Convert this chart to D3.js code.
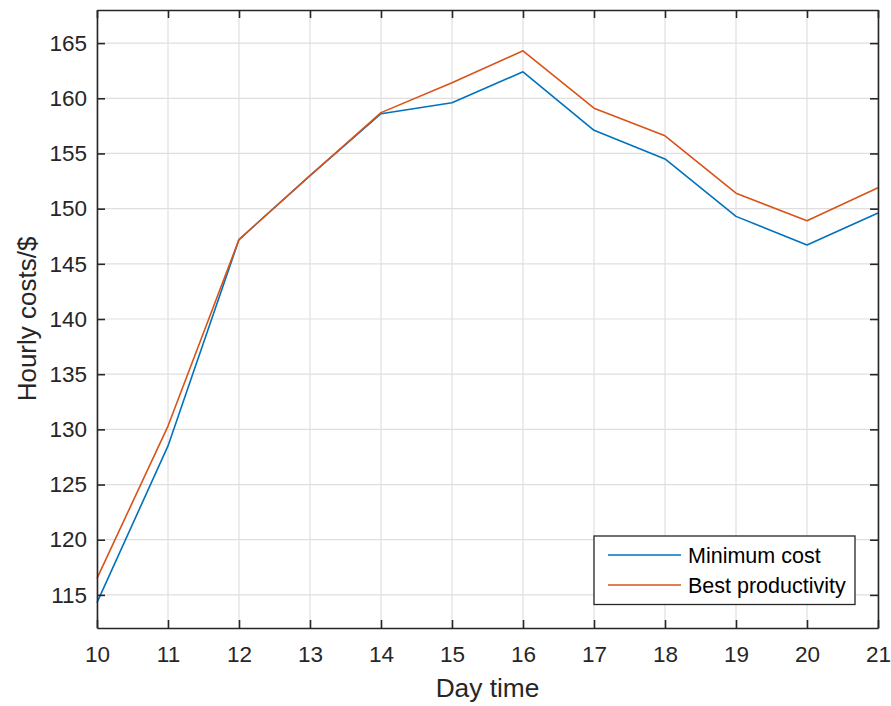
<!DOCTYPE html>
<html>
<head>
<meta charset="utf-8">
<script src="https://cdn.jsdelivr.net/npm/d3@7"></script>
<style>
  html, body { margin: 0; padding: 0; background: #fff; }
  svg { display: block; font-family: "Liberation Sans", Arial, Helvetica, sans-serif; }
</style>
</head>
<body>
<svg id="chart" width="891" height="706"></svg>
<script>
const hours = [10, 11, 12, 13, 14, 15, 16, 17, 18, 19, 20, 21];
const minimumCost = [114.3, 128.5, 147.2, 153.0, 158.6, 159.6, 162.4, 157.1, 154.5, 149.3, 146.7, 149.6];
const bestProductivity = [116.5, 130.3, 147.2, 153.0, 158.7, 161.4, 164.3, 159.1, 156.6, 151.4, 148.9, 151.9];
const xTicks = [10, 11, 12, 13, 14, 15, 16, 17, 18, 19, 20, 21];
const yTicks = [115, 120, 125, 130, 135, 140, 145, 150, 155, 160, 165];
const seriesNames = ["Minimum cost", "Best productivity"];
const seriesColors = ["#0072BD", "#D95319"];

(function () {
const svg = d3.select("#chart");
const pL = 97, pR = 878, pT = 10, pB = 628;
const axisColor = "#262626";
const gridColor = "#dfdfdf";

const x = d3.scaleLinear().domain([10, 21]).range([pL, pR]);
const y = d3.scaleLinear().domain([112, 168]).range([pB, pT]);

// grid
const grid = svg.append("g");
grid.selectAll("line.gx").data(xTicks).enter().append("line")
  .attr("x1", d => x(d)).attr("x2", d => x(d))
  .attr("y1", pT).attr("y2", pB)
  .attr("stroke", gridColor).attr("stroke-width", 1.2);
grid.selectAll("line.gy").data(yTicks).enter().append("line")
  .attr("y1", d => y(d)).attr("y2", d => y(d))
  .attr("x1", pL).attr("x2", pR)
  .attr("stroke", gridColor).attr("stroke-width", 1.2);

// lines
const series = [minimumCost, bestProductivity];
const line = d3.line().x((d, i) => x(hours[i])).y(d => y(d));
series.forEach((s, k) => {
  svg.append("path").datum(s)
    .attr("d", line)
    .attr("fill", "none")
    .attr("stroke", seriesColors[k])
    .attr("stroke-width", 1.6)
    .attr("stroke-linejoin", "round");
});

// axes with inward ticks
const tickLen = 8;
const tickFont = 22.5;
const xAxisB = d3.axisBottom(x).tickValues(xTicks).tickSizeInner(-tickLen).tickSizeOuter(0).tickPadding(18);
const xAxisT = d3.axisTop(x).tickValues(xTicks).tickSizeInner(-tickLen).tickSizeOuter(0).tickFormat("");
const yAxisL = d3.axisLeft(y).tickValues(yTicks).tickSizeInner(-tickLen).tickSizeOuter(0).tickPadding(10);
const yAxisR = d3.axisRight(y).tickValues(yTicks).tickSizeInner(-tickLen).tickSizeOuter(0).tickFormat("");

function styleAxis(g) {
  g.selectAll("path").attr("stroke", axisColor).attr("stroke-width", 1.6);
  g.selectAll("line").attr("stroke", axisColor).attr("stroke-width", 1.6);
  g.selectAll("text").attr("fill", axisColor).style("font-size", tickFont + "px")
    .style("font-family", "'Liberation Sans', Arial, sans-serif");
}
svg.append("g").attr("transform", `translate(0,${pB})`).call(xAxisB).call(styleAxis);
svg.append("g").attr("transform", `translate(0,${pT})`).call(xAxisT).call(styleAxis);
svg.append("g").attr("transform", `translate(${pL},0)`).call(yAxisL).call(styleAxis);
svg.append("g").attr("transform", `translate(${pR},0)`).call(yAxisR).call(styleAxis);

// axis labels
svg.append("text")
  .attr("x", (pL + pR) / 2).attr("y", 697)
  .attr("text-anchor", "middle")
  .attr("fill", axisColor)
  .style("font-size", "26.3px")
  .text("Day time");
svg.append("text")
  .attr("transform", `translate(36,${(pT + pB) / 2}) rotate(-90)`)
  .attr("text-anchor", "middle")
  .attr("fill", axisColor)
  .style("font-size", "26px")
  .text("Hourly costs/$");

// legend
const lg = svg.append("g");
lg.append("rect")
  .attr("x", 594).attr("y", 536).attr("width", 261).attr("height", 68.5)
  .attr("fill", "#fff").attr("stroke", axisColor).attr("stroke-width", 1.3);
const legendYs = [555, 585];
seriesNames.forEach((name, k) => {
  lg.append("line")
    .attr("x1", 608).attr("x2", 681)
    .attr("y1", legendYs[k]).attr("y2", legendYs[k])
    .attr("stroke", seriesColors[k]).attr("stroke-width", 1.6);
  lg.append("text")
    .attr("x", 688).attr("y", legendYs[k] + 8)
    .attr("fill", "#000")
    .style("font-size", "21.5px")
    .text(name);
});
})();
</script>
</body>
</html>
